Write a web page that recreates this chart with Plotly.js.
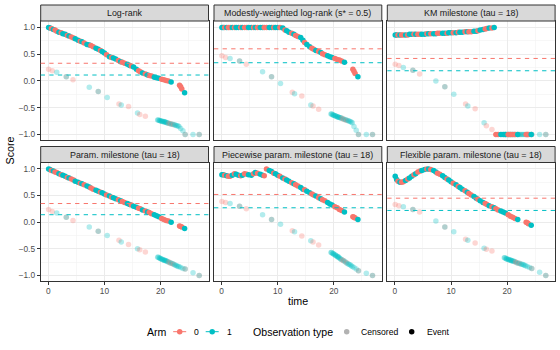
<!DOCTYPE html>
<html>
<head>
<meta charset="utf-8">
<script src="https://cdn.plot.ly/plotly-3.0.1.min.js"></script>
<style>html,body{margin:0;padding:0;background:#fff;}#chart{width:560px;height:350px;}</style>
</head>
<body>
<div id="chart"></div>
<script>
// ---------- DATA ----------
const panelTitles = ["Log-rank","Modestly-weighted log-rank (s* = 0.5)","KM milestone (tau = 18)",
  "Param. milestone (tau = 18)","Piecewise param. milestone (tau = 18)","Flexible param. milestone (tau = 18)"];

// events (shared across panels)
const eventTime = [0.05,0.3,0.55,0.9,1.2,1.5,1.9,2.3,2.6,3.0,
  3.4,3.7,4.1,4.5,4.8,5.3,5.7,6.0,6.4,6.9,
  7.3,7.6,8.0,8.5,8.9,9.3,9.6,10.0,10.4,10.9,
  11.3,11.6,12.0,12.5,12.9,13.2,13.6,14.1,14.5,14.8,
  15.2,15.7,16.1,16.4,16.8,17.3,17.7,18.0,18.4,18.9,
  19.3,19.7,20.2,20.6,21.0,21.4,21.9,23.4,23.6,23.8,
  24.3];
const eventArm = [1,1,0,1,0,0,1,0,1,1,
  0,1,0,0,1,1,0,1,0,1,
  1,0,0,1,1,0,1,1,0,1,
  0,1,1,0,1,0,0,1,1,0,
  1,1,0,0,1,0,1,0,0,1,
  1,1,0,0,0,0,1,0,0,0,
  1];
const eventLogRank = [1.00,0.99,0.98,0.96,0.95,0.93,0.91,0.90,0.88,0.87,
  0.85,0.84,0.82,0.80,0.79,0.76,0.74,0.73,0.71,0.68,
  0.67,0.66,0.64,0.61,0.59,0.57,0.55,0.52,0.49,0.45,
  0.44,0.43,0.41,0.38,0.36,0.35,0.33,0.31,0.29,0.28,
  0.26,0.22,0.19,0.17,0.15,0.13,0.11,0.10,0.09,0.07,
  0.06,0.05,0.03,0.02,0.01,0.00,-0.02,-0.08,-0.11,-0.15,
  -0.22];
const eventModest = [1,1,1,1,1,1,1,1,1,1,
  1,1,1,1,1,1,1,1,1,1,
  1,1,1,1,1,1,1,1,1,0.99,
  0.95,0.94,0.91,0.89,0.87,0.85,0.83,0.81,0.76,0.72,
  0.68,0.64,0.61,0.59,0.57,0.55,0.53,0.51,0.49,0.47,
  0.45,0.44,0.42,0.40,0.39,0.37,0.35,0.22,0.18,0.14,
  0.08];
const eventKM = [0.86,0.86,0.86,0.86,0.86,0.86,0.86,0.86,0.87,0.87,
  0.87,0.87,0.87,0.87,0.87,0.87,0.88,0.88,0.88,0.88,
  0.88,0.89,0.89,0.89,0.89,0.89,0.90,0.90,0.90,0.90,
  0.91,0.91,0.91,0.92,0.92,0.92,0.92,0.93,0.93,0.94,
  0.95,0.96,0.97,0.98,0.99,0.99,1.00,-1,-1,-1,
  -1,-1,-1,-1,-1,-1,-1,-1,-1,-1,
  -1];
const eventParam = [1.00,0.99,0.97,0.96,0.94,0.93,0.91,0.89,0.88,0.86,
  0.84,0.83,0.81,0.79,0.77,0.75,0.73,0.72,0.70,0.68,
  0.66,0.64,0.62,0.60,0.58,0.56,0.55,0.53,0.51,0.49,
  0.47,0.46,0.44,0.42,0.40,0.39,0.37,0.35,0.33,0.32,
  0.30,0.28,0.26,0.25,0.23,0.21,0.19,0.18,0.16,0.14,
  0.12,0.10,0.07,0.05,0.03,0.02,0.00,-0.07,-0.08,-0.09,
  -0.12];
const eventPiecewise = [0.89,0.89,0.88,0.87,0.86,0.86,0.88,0.91,0.90,0.88,
  0.87,0.88,0.91,0.90,0.89,0.88,0.91,0.93,0.92,0.90,
  0.88,0.87,1.00,0.97,0.95,0.92,0.91,0.88,0.86,0.83,
  0.81,0.79,0.77,0.74,0.72,0.70,0.68,0.65,0.62,0.61,
  0.58,0.55,0.53,0.51,0.49,0.46,0.44,0.42,0.40,0.37,
  0.34,0.32,0.29,0.27,0.24,0.22,0.19,0.10,0.09,0.08,
  0.05];
const eventFlexible = [0.86,0.80,0.77,0.75,0.75,0.76,0.78,0.81,0.83,0.86,
  0.89,0.91,0.94,0.96,0.97,0.99,1.00,1.00,0.99,0.97,
  0.94,0.92,0.90,0.87,0.84,0.81,0.79,0.76,0.73,0.70,
  0.67,0.65,0.62,0.59,0.56,0.54,0.51,0.48,0.45,0.43,
  0.40,0.37,0.35,0.33,0.31,0.29,0.27,0.25,0.23,0.21,
  0.19,0.17,0.14,0.11,0.09,0.07,0.05,0.00,-0.01,-0.03,
  -0.06];

// censored observations (shared across panels)
const censTime = [0.05,0.7,1.5,3.2,3.2,4.4,7.3,8.9,8.9,10.5,12.6,13.0,14.3,15.9,16.3,17.3,
  19.5,19.6,19.8,19.9,20.0,20.2,20.3,20.4,20.6,20.7,20.8,20.9,21.1,21.2,21.4,
  21.5,21.7,21.8,22.0,22.2,22.3,22.5,22.7,22.9,23.1,23.3,23.6,24.0,
  24.4,24.4,25.8,26.9,26.9];
const censArm = [0,0,1,0,1,0,1,0,1,1,0,1,0,1,0,0,
  1,1,1,1,1,1,1,1,1,1,1,1,1,1,1,
  0,1,0,1,1,0,1,1,1,1,1,1,1,
  0,1,1,0,1];
const censLogRank = [0.22,0.19,0.16,0.08,0.08,0.02,-0.12,-0.20,-0.20,-0.31,-0.43,-0.45,-0.48,-0.60,-0.63,-0.66,
  -0.73,-0.73,-0.74,-0.74,-0.75,-0.75,-0.76,-0.76,-0.76,-0.77,-0.77,-0.77,-0.78,-0.78,-0.79,
  -0.79,-0.80,-0.80,-0.81,-0.81,-0.82,-0.82,-0.83,-0.84,-0.84,-0.85,-0.89,-0.93,
  -1,-1,-1,-1,-1];
const censModest = [0.47,0.44,0.42,0.37,0.37,0.31,0.17,0.08,0.08,-0.05,-0.21,-0.24,-0.28,-0.45,-0.47,-0.53,
  -0.62,-0.62,-0.63,-0.64,-0.64,-0.65,-0.65,-0.66,-0.67,-0.67,-0.68,-0.68,-0.69,-0.69,-0.70,
  -0.70,-0.71,-0.72,-0.72,-0.73,-0.74,-0.74,-0.75,-0.76,-0.77,-0.78,-0.85,-0.92,
  -1,-1,-1,-1,-1];
const censKM = [0.31,0.29,0.25,0.20,0.20,0.13,0.00,-0.11,-0.11,-0.25,-0.43,-0.47,-0.52,-0.78,-0.84,-0.91,
  -1,-1,-1,-1,-1,-1,-1,-1,-1,-1,-1,-1,-1,-1,-1,
  -1,-1,-1,-1,-1,-1,-1,-1,-1,-1,-1,-1,-1,
  -1,-1,-1,-1,-1];
const censParam = [0.24,0.20,0.17,0.09,0.09,0.03,-0.09,-0.17,-0.17,-0.25,-0.34,-0.37,-0.42,-0.50,-0.52,-0.56,
  -0.66,-0.66,-0.67,-0.68,-0.68,-0.69,-0.70,-0.70,-0.71,-0.72,-0.72,-0.72,-0.73,-0.74,-0.75,
  -0.75,-0.76,-0.77,-0.77,-0.78,-0.79,-0.80,-0.81,-0.82,-0.83,-0.83,-0.85,-0.87,
  -0.88,-0.88,-0.95,-1,-1];
const censPiecewise = [0.39,0.37,0.35,0.30,0.30,0.25,0.14,0.05,0.05,-0.04,-0.16,-0.18,-0.26,-0.35,-0.37,-0.43,
  -0.57,-0.57,-0.59,-0.59,-0.60,-0.61,-0.62,-0.63,-0.64,-0.65,-0.66,-0.66,-0.68,-0.69,-0.70,
  -0.71,-0.72,-0.73,-0.74,-0.76,-0.76,-0.78,-0.79,-0.80,-0.82,-0.83,-0.85,-0.88,
  -0.91,-0.91,-0.96,-1,-1];
const censFlexible = [0.33,0.31,0.29,0.24,0.24,0.19,0.02,-0.09,-0.09,-0.18,-0.32,-0.34,-0.39,-0.49,-0.51,-0.54,
  -0.67,-0.67,-0.68,-0.69,-0.69,-0.70,-0.70,-0.71,-0.71,-0.72,-0.72,-0.73,-0.73,-0.74,-0.74,
  -0.75,-0.76,-0.76,-0.77,-0.77,-0.78,-0.79,-0.79,-0.80,-0.81,-0.82,-0.83,-0.85,
  -0.87,-0.87,-0.94,-1,-1];

// mean score per arm (dashed lines)
const meanArm0 = [0.33,0.60,0.42,0.35,0.52,0.45];
const meanArm1 = [0.11,0.34,0.19,0.14,0.27,0.22];

const armLabels = ["0","1"];
const obsLabels = ["Censored","Event"];

// ---------- STYLE ----------
const FONT = "Liberation Sans, Arial, Helvetica, sans-serif";
const armColor = ["#F8766D","#00BFC4"];
const armColorFaded = ["rgba(248,118,109,0.3)","rgba(0,191,196,0.3)"];
const obsColor = ["rgba(0,0,0,0.3)","#000000"];
const eventScores = [eventLogRank,eventModest,eventKM,eventParam,eventPiecewise,eventFlexible];
const censScores = [censLogRank,censModest,censKM,censParam,censPiecewise,censFlexible];

const W = 560, H = 350;
const xDom = [[40.7/W,208.5/W],[214/W,381.8/W],[387.3/W,555.1/W]];
const yDom = [[1-139.5/H,1-21/H],[1-280.5/H,1-162.5/H]];
const stripH = 16/H;
const MS = 5.5;
const TICK_SIZE = 8.3, STRIP_SIZE = 8.9, TITLE_SIZE = 10.7, LEG_TITLE = 10.6, LEG_TEXT = 8.6;

const traces = [];
const shapes = [];
const annotations = [];
const layout = {
  width: W, height: H,
  margin: {l:0,r:0,t:0,b:0},
  paper_bgcolor: "#fff", plot_bgcolor: "#fff",
  font: {family: FONT, color: "#000"},
  showlegend: false,
  hovermode: false
};

for (let i = 0; i < 6; i++) {
  const row = Math.floor(i/3), col = i % 3;
  const n = i === 0 ? "" : String(i+1);
  const xa = "x"+n, ya = "y"+n;
  traces.push({
    type: "scatter", mode: "markers", xaxis: xa, yaxis: ya, showlegend: false,
    x: censTime, y: censScores[i],
    marker: {size: MS, color: censArm.map(a => armColorFaded[a]), line: {width: 0}}
  });
  traces.push({
    type: "scatter", mode: "markers", xaxis: xa, yaxis: ya, showlegend: false,
    x: eventTime, y: eventScores[i],
    marker: {size: MS, color: eventArm.map(a => armColor[a]), line: {width: 0}}
  });
  layout["xaxis"+n] = {
    domain: xDom[col], anchor: ya, range: [-1.36, 28.56],
    showline: true, mirror: true, linecolor: "#333333", linewidth: 1,
    showgrid: true, gridcolor: "#EBEBEB", gridwidth: 1, zeroline: false,
    tick0: 0, dtick: 10,
    minor: {tick0: 0, dtick: 5, showgrid: true, gridcolor: "#F2F2F2", gridwidth: 0.6},
    showticklabels: row === 1, ticks: row === 1 ? "outside" : "", ticklen: 3, tickwidth: 1, tickcolor: "#333333",
    tickfont: {family: FONT, size: TICK_SIZE, color: "#4D4D4D"}, fixedrange: true
  };
  layout["yaxis"+n] = {
    domain: yDom[row], anchor: xa, range: [-1.095, 1.12],
    showline: true, mirror: true, linecolor: "#333333", linewidth: 1,
    showgrid: true, gridcolor: "#EBEBEB", gridwidth: 1, zeroline: false,
    tick0: 0, dtick: 0.5, tickformat: ".1f",
    minor: {tick0: 0, dtick: 0.25, showgrid: true, gridcolor: "#F2F2F2", gridwidth: 0.6},
    showticklabels: col === 0, ticks: col === 0 ? "outside" : "", ticklen: 3, tickwidth: 1, tickcolor: "#333333",
    tickfont: {family: FONT, size: TICK_SIZE, color: "#4D4D4D"}, fixedrange: true
  };
  [meanArm0[i], meanArm1[i]].forEach((m, a) => {
    shapes.push({type: "line", xref: xa+" domain", yref: ya, x0: 0, x1: 1, y0: m, y1: m,
      line: {color: armColor[a], width: 1, dash: "4.3px,4.3px"}, layer: "above"});
  });
  // strip
  shapes.push({type: "rect", xref: "paper", yref: "paper",
    x0: xDom[col][0], x1: xDom[col][1], y0: yDom[row][1], y1: yDom[row][1] + stripH,
    fillcolor: "#D9D9D9", line: {color: "#333333", width: 1}, layer: "above"});
  annotations.push({xref: "paper", yref: "paper", x: (xDom[col][0]+xDom[col][1])/2, y: yDom[row][1] + stripH/2,
    text: panelTitles[i], showarrow: false, xanchor: "center", yanchor: "middle",
    font: {family: FONT, size: STRIP_SIZE, color: "#1A1A1A"}});
}

annotations.push({xref: "paper", yref: "paper", x: 10/W, y: 1-150.5/H, text: "Score", textangle: -90,
  showarrow: false, xanchor: "center", yanchor: "middle", font: {family: FONT, size: TITLE_SIZE, color: "#000"}});
annotations.push({xref: "paper", yref: "paper", x: 297.9/W, y: 1-300.5/H, text: "time",
  showarrow: false, xanchor: "center", yanchor: "middle", font: {family: FONT, size: TITLE_SIZE, color: "#000"}});

// ---------- LEGEND (drawn as keys + text) ----------
const LY = 1 - 331.7/H;
function legText(txt, xLeft, size) {
  annotations.push({xref: "paper", yref: "paper", x: xLeft/W, y: LY, text: txt, showarrow: false,
    xanchor: "left", yanchor: "middle", borderpad: 0, font: {family: FONT, size: size, color: "#000"}});
}
function legDot(xc, color) {
  shapes.push({type: "circle", xref: "paper", yref: "paper", xsizemode: "pixel", ysizemode: "pixel",
    xanchor: xc/W, yanchor: LY, x0: -MS/2, x1: MS/2, y0: -MS/2, y1: MS/2,
    fillcolor: color, line: {width: 0}});
}
function legLine(xc, color) {
  shapes.push({type: "line", xref: "paper", yref: "paper", xsizemode: "pixel",
    xanchor: xc/W, x0: -6.5, x1: 6.5, y0: LY, y1: LY, line: {color: color, width: 1}});
}
legText("Arm", 146, LEG_TITLE);
const armKeyX = [179.7, 212.2];
const armTextX = [193, 225.7];
armLabels.forEach((lab, a) => {
  legLine(armKeyX[a], armColor[a]);
  legDot(armKeyX[a], armColor[a]);
  legText(lab, armTextX[a], LEG_TEXT);
});
legText("Observation type", 252, LEG_TITLE);
const obsKeyX = [346.7, 411.7];
const obsTextX = [360.3, 425.7];
obsLabels.forEach((lab, k) => {
  legDot(obsKeyX[k], obsColor[k]);
  legText(lab, obsTextX[k], LEG_TEXT);
});

layout.shapes = shapes;
layout.annotations = annotations;

Plotly.newPlot("chart", traces, layout, {displayModeBar: false, staticPlot: true});
</script>
</body>
</html>
